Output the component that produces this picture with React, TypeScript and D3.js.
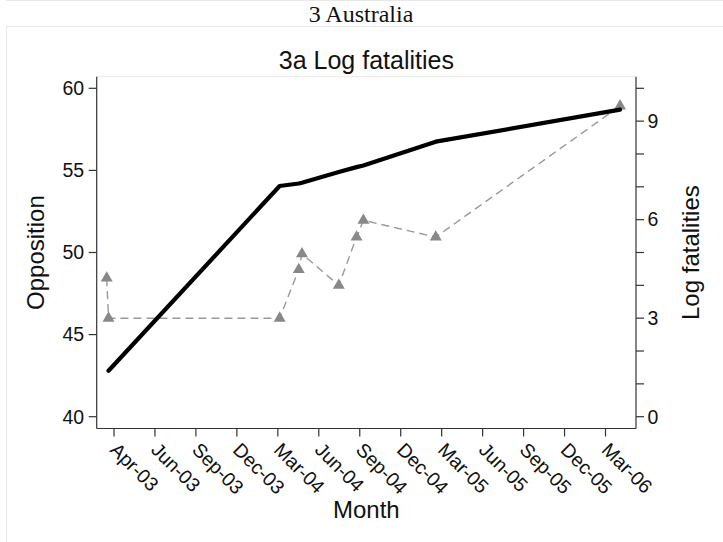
import * as d3 from 'd3';

// Log fatalities (right axis), grey dashed with triangles
const fatalityDates = ['2003-03-16', '2003-03-20', '2004-03-30', '2004-05-11', '2004-05-18', '2004-08-07', '2004-09-15', '2004-09-30', '2005-03-08', '2006-04-17'];
const logFatalities = [4.22, 3.0, 3.0, 4.48, 4.96, 4.0, 5.47, 5.98, 5.47, 9.46];

// Opposition (left axis), thick black line
const oppositionDates = ['2003-03-20', '2004-03-30', '2004-05-11', '2004-05-18', '2004-08-07', '2004-09-15', '2004-09-30', '2005-03-08', '2006-04-17'];
const opposition = [42.8, 54.05, 54.2, 54.25, 54.9, 55.2, 55.3, 56.75, 58.7];

const xTickDates = ['2003-04-01', '2003-06-30', '2003-09-28', '2003-12-27', '2004-03-26', '2004-06-24', '2004-09-22', '2004-12-21', '2005-03-21', '2005-06-19', '2005-09-17', '2005-12-16', '2006-03-16'];
const xTickLabels = ['Apr-03', 'Jun-03', 'Sep-03', 'Dec-03', 'Mar-04', 'Jun-04', 'Sep-04', 'Dec-04', 'Mar-05', 'Jun-05', 'Sep-05', 'Dec-05', 'Mar-06'];
const leftTicks = [40, 45, 50, 55, 60];
const rightTicks = [0, 1, 2, 3, 4, 5, 6, 7, 8, 9, 10];
const rightLabels = [0, 3, 6, 9];

const W = 723;
const H = 542;
const PLOT = { left: 96.7, right: 636, top: 76.7, bottom: 428.5 };
const SANS = '"Liberation Sans", Arial, Helvetica, sans-serif';
const AXIS = '#333';

const parse = d3.timeParse('%Y-%m-%d');

export default function App() {
  const x = d3.scaleTime()
    .domain([parse('2003-02-22')!, parse('2006-05-22')!])
    .range([PLOT.left, PLOT.right]);
  const yLeft = d3.scaleLinear().domain([40, 60]).range([416.7, 88.3]);
  const yRight = d3.scaleLinear().domain([0, 10]).range([416.7, 88.3]);

  const fat = fatalityDates.map((d, i) => ({ date: parse(d)!, v: logFatalities[i] }));
  const opp = oppositionDates.map((d, i) => ({ date: parse(d)!, v: opposition[i] }));

  const fatLine = d3.line<{ date: Date; v: number }>().x(d => x(d.date)).y(d => yRight(d.v));
  const oppLine = d3.line<{ date: Date; v: number }>().x(d => x(d.date)).y(d => yLeft(d.v));
  const tri = d3.symbol().type(d3.symbolTriangle).size(62)();

  const midY = (PLOT.top + PLOT.bottom) / 2;
  const midX = (PLOT.left + PLOT.right) / 2;

  return (
    <svg width={W} height={H} style={{ position: 'absolute', left: 0, top: 0, background: '#fff' }}>
      {/* outer frames */}
      <line x1={6} x2={W} y1={0.5} y2={0.5} stroke="#e8e8e8" />
      <line x1={6} x2={W} y1={26.5} y2={26.5} stroke="#e8e8e8" />
      <line x1={6.5} x2={6.5} y1={26} y2={H} stroke="#e8e8e8" />

      <text x={361} y={22} textAnchor="middle" fontFamily='"Liberation Serif", "Times New Roman", serif' fontSize={24} fill="#111">
        3 Australia
      </text>
      <text x={midX} y={69} textAnchor="middle" fontFamily={SANS} fontSize={25} fill="#111">
        3a Log fatalities
      </text>

      {/* plot region top border */}
      <line x1={PLOT.left} x2={PLOT.right} y1={PLOT.top} y2={PLOT.top} stroke="#e8e8e8" />

      {/* left axis */}
      <line x1={PLOT.left} x2={PLOT.left} y1={PLOT.top} y2={PLOT.bottom} stroke={AXIS} strokeWidth={1.2} />
      {leftTicks.map(t => (
        <g key={t}>
          <line x1={PLOT.left - 8} x2={PLOT.left} y1={yLeft(t)} y2={yLeft(t)} stroke={AXIS} strokeWidth={1.2} />
          <text x={PLOT.left - 12.5} y={yLeft(t)} dy="0.35em" textAnchor="end" fontFamily={SANS} fontSize={19.5} fill="#111">{t}</text>
        </g>
      ))}
      <text transform={`translate(44,${midY}) rotate(-90)`} textAnchor="middle" fontFamily={SANS} fontSize={24} fill="#111">
        Opposition
      </text>

      {/* right axis */}
      <line x1={PLOT.right} x2={PLOT.right} y1={PLOT.top} y2={PLOT.bottom} stroke={AXIS} strokeWidth={1.2} />
      {rightTicks.map(t => (
        <line key={t} x1={PLOT.right} x2={PLOT.right + 8} y1={yRight(t)} y2={yRight(t)} stroke={AXIS} strokeWidth={1.2} />
      ))}
      {rightLabels.map(t => (
        <text key={t} x={PLOT.right + 11.5} y={yRight(t)} dy="0.35em" textAnchor="start" fontFamily={SANS} fontSize={19.5} fill="#111">{t}</text>
      ))}
      <text transform={`translate(699,${midY}) rotate(-90)`} textAnchor="middle" fontFamily={SANS} fontSize={24} fill="#111">
        Log fatalities
      </text>

      {/* bottom axis */}
      <line x1={PLOT.left} x2={PLOT.right} y1={PLOT.bottom} y2={PLOT.bottom} stroke={AXIS} strokeWidth={1.2} />
      {xTickDates.map((d, i) => {
        const tx = x(parse(d)!);
        return (
          <g key={d}>
            <line x1={tx} x2={tx} y1={PLOT.bottom} y2={PLOT.bottom + 8} stroke={AXIS} strokeWidth={1.2} />
            <text transform={`translate(${tx - 5},${PLOT.bottom + 22.5}) rotate(45)`} textAnchor="start" fontFamily={SANS} fontSize={19.5} fill="#111">
              {xTickLabels[i]}
            </text>
          </g>
        );
      })}
      <text x={midX} y={518} textAnchor="middle" fontFamily={SANS} fontSize={24} fill="#111">
        Month
      </text>

      {/* series */}
      <path d={fatLine(fat) ?? ''} fill="none" stroke="#999" strokeWidth={1.4} strokeDasharray="8,5" />
      {fat.map((d, i) => (
        <path key={i} d={tri ?? ''} transform={`translate(${x(d.date)},${yRight(d.v)})`} fill="#888" />
      ))}
      <path d={oppLine(opp) ?? ''} fill="none" stroke="#000" strokeWidth={4.2} strokeLinejoin="round" strokeLinecap="round" />
    </svg>
  );
}
